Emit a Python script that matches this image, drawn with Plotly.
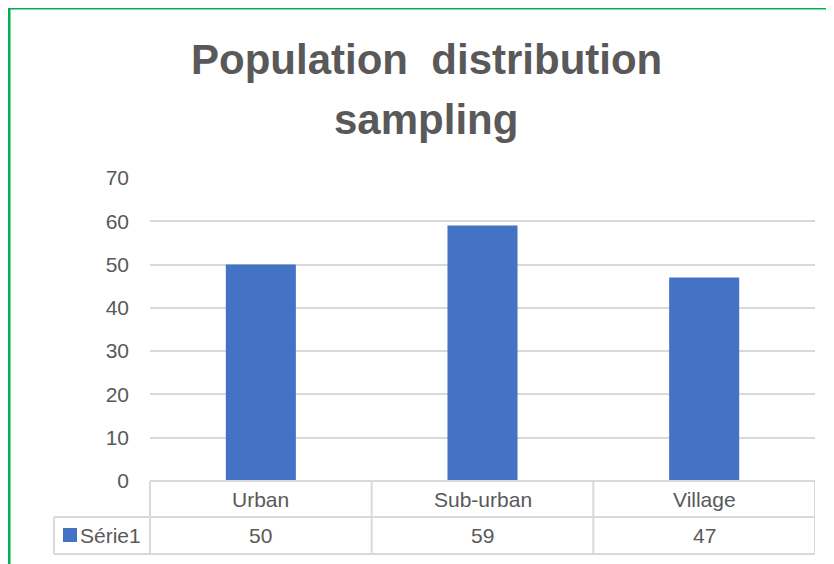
import plotly.graph_objects as go

categories = ["Urban", "Sub-urban", "Village"]
values = [50, 59, 47]
series_name = "Série1"
title_lines = ["Population  distribution", "sampling"]
y_ticks = [0, 10, 20, 30, 40, 50, 60, 70]

W, H = 834, 564
OFF = 8  # page body margin offset
# reference pixel geometry
REF_L, REF_R, REF_T, REF_B = 150, 815, 178, 481
L = REF_L - OFF
T = REF_T - OFF
R = W - (REF_R - OFF)
B = H - (REF_B - OFF)
PW = W - L - R
PH = H - T - B

def px_x(p):
    return (p - OFF - L) / PW

def px_y(p):
    return (H - B - (p - OFF)) / PH

TEXT = "#595959"
GRID = "#d9d9d9"
BLUE = "#4472C4"
FONT = "Liberation Sans"
FS = 21

fig = go.Figure(go.Bar(x=categories, y=values, marker=dict(color=BLUE, line=dict(width=0)),
                       name=series_name, showlegend=False))

shapes = []
ann = []

# title
ann.append(dict(text="<b>%s</b>" % title_lines[0], x=px_x(426), y=px_y(60), xref="paper", yref="paper",
                showarrow=False, xanchor="center", yanchor="middle",
                font=dict(family=FONT, size=42, color=TEXT)))
ann.append(dict(text="<b>%s</b>" % title_lines[1], x=px_x(426), y=px_y(120), xref="paper", yref="paper",
                showarrow=False, xanchor="center", yanchor="middle",
                font=dict(family=FONT, size=42, color=TEXT)))

# table lines
line = dict(color=GRID, width=2)
y0 = px_y(481); y1 = px_y(517); y2 = px_y(554)
xl = px_x(54)
shapes.append(dict(type="line", xref="paper", yref="paper", x0=0, x1=1, y0=0, y1=0, line=line))
shapes.append(dict(type="line", xref="paper", yref="paper", x0=xl, x1=1, y0=y1, y1=y1, line=line))
shapes.append(dict(type="line", xref="paper", yref="paper", x0=xl, x1=1, y0=y2, y1=y2, line=line))
shapes.append(dict(type="line", xref="paper", yref="paper", x0=0, x1=0, y0=0, y1=y2, line=line))
shapes.append(dict(type="line", xref="paper", yref="paper", x0=xl, x1=xl, y0=y1, y1=y2, line=line))
for i in range(len(categories)):
    xb = i + 0.5
    shapes.append(dict(type="line", xref="x", yref="paper", x0=xb, x1=xb, y0=0, y1=y2, line=line))

for i, (c, v) in enumerate(zip(categories, values)):
    ann.append(dict(text=c, x=i, y=(y0 + y1) / 2, xref="x", yref="paper", showarrow=False,
                    xanchor="center", yanchor="middle", font=dict(family=FONT, size=FS, color=TEXT)))
    ann.append(dict(text=str(v), x=i, y=(y1 + y2) / 2, xref="x", yref="paper", showarrow=False,
                    xanchor="center", yanchor="middle", font=dict(family=FONT, size=FS, color=TEXT)))

# legend key
shapes.append(dict(type="rect", xref="paper", yref="paper", x0=px_x(63), x1=px_x(77),
                   y0=px_y(528), y1=px_y(542), fillcolor=BLUE, line=dict(width=0)))
ann.append(dict(text=series_name, x=px_x(78), y=(y1 + y2) / 2, xref="paper", yref="paper",
                showarrow=False, xanchor="left", yanchor="middle",
                font=dict(family=FONT, size=FS, color=TEXT)))

# green frame
green = dict(color="#00B050", width=3)
shapes.append(dict(type="line", xref="paper", yref="paper", x0=px_x(9), x1=px_x(9),
                   y0=px_y(6.5), y1=px_y(600), line=green))
shapes.append(dict(type="line", xref="paper", yref="paper", x0=px_x(7.5), x1=px_x(900),
                   y0=px_y(8), y1=px_y(8), line=green))

fig.update_layout(
    width=W, height=H,
    margin=dict(l=L, r=R, t=T, b=B),
    paper_bgcolor="white", plot_bgcolor="white",
    bargap=0.684,
    shapes=shapes, annotations=ann,
    xaxis=dict(showticklabels=False, showgrid=False, zeroline=False, showline=False,
               range=[-0.5, 2.5], ticks=""),
    yaxis=dict(range=[0, 70], tickvals=y_ticks, showgrid=True, gridcolor=GRID, gridwidth=1.5,
               zeroline=False, showline=False, ticks="", ticklabelstandoff=20,
               tickfont=dict(family=FONT, size=FS, color=TEXT)),
)

fig.write_html("out.html")
